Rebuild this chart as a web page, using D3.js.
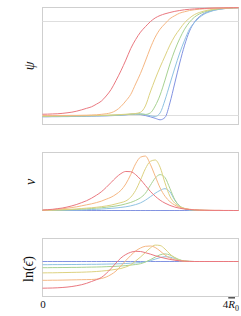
<!DOCTYPE html>
<html>
<head>
<meta charset="utf-8">
<script src="https://cdn.jsdelivr.net/npm/d3@7"></script>
<style>
body { margin: 0; background: #fff; }
</style>
</head>
<body>
<svg id="chart"></svg>
<script>
// radius grid, in units of R0
const xs = [0,0.1,0.2,0.3,0.4,0.5,0.6,0.7,0.8,0.9,1,1.1,1.2,1.3,1.4,1.5,1.6,1.7,1.8,1.9,2,
            2.1,2.2,2.3,2.4,2.5,2.6,2.7,2.8,2.9,3,3.1,3.2,3.3,3.4,3.5,3.6,3.7,3.8,3.9,4]

// psi
const psi_red    = [0.013,0.014,0.016,0.018,0.022,0.028,0.035,0.046,0.060,0.076,0.092,0.120,0.152,0.207,0.276,0.371,0.474,0.588,0.710,0.806,0.885,0.943,0.996,1.036,1.062,1.080,1.094,1.106,1.115,1.123,1.128,1.132,1.135,1.137,1.140,1.141,1.142,1.143,1.144,1.145,1.145]
const psi_orange = [-0.001,-0.001,-0.001,0,0,0,0.001,0.001,0.002,0.003,0.005,0.007,0.012,0.018,0.029,0.053,0.095,0.154,0.223,0.334,0.447,0.578,0.715,0.832,0.917,0.975,1.028,1.060,1.087,1.102,1.115,1.123,1.129,1.133,1.136,1.140,1.141,1.142,1.143,1.144,1.145]
const psi_yellow = [-0.005,-0.005,-0.005,-0.004,-0.004,-0.003,-0.003,-0.002,-0.002,-0.001,0,0.001,0.002,0.003,0.005,0.007,0.010,0.013,0.017,0.021,0.034,0.101,0.249,0.387,0.514,0.631,0.747,0.843,0.917,0.986,1.034,1.071,1.094,1.110,1.121,1.129,1.134,1.138,1.142,1.144,1.145]
const psi_green  = [-0.010,-0.010,-0.008,-0.008,-0.007,-0.007,-0.006,-0.005,-0.005,-0.004,-0.003,-0.002,-0.001,0,0.002,0.004,0.006,0.010,0.013,0.016,0.016,0.011,0.027,0.101,0.217,0.376,0.546,0.694,0.816,0.917,0.991,1.044,1.078,1.099,1.114,1.125,1.132,1.137,1.141,1.144,1.145]
const psi_cyan   = [-0.012,-0.012,-0.011,-0.011,-0.010,-0.010,-0.008,-0.007,-0.007,-0.006,-0.005,-0.004,-0.003,-0.002,0,0.002,0.005,0.008,0.013,0.016,0.016,0.010,-0.003,-0.011,0.027,0.164,0.334,0.504,0.663,0.800,0.917,0.986,1.039,1.076,1.099,1.116,1.127,1.134,1.140,1.143,1.145]
const psi_blue   = [-0.014,-0.014,-0.013,-0.013,-0.012,-0.012,-0.011,-0.010,-0.010,-0.008,-0.007,-0.006,-0.005,-0.004,-0.002,0,0.003,0.007,0.012,0.014,0.010,-0.001,-0.014,-0.030,-0.046,-0.021,0.133,0.345,0.557,0.747,0.896,0.991,1.049,1.084,1.105,1.119,1.129,1.135,1.140,1.143,1.145]

// v
const v_red    = [0.008,0.014,0.020,0.031,0.042,0.059,0.080,0.105,0.136,0.169,0.212,0.263,0.322,0.398,0.483,0.568,0.636,0.673,0.669,0.619,0.534,0.432,0.331,0.246,0.178,0.127,0.088,0.059,0.039,0.025,0.017,0.010,0.007,0.005,0.003,0.002,0.002,0.001,0.001,0,0]
const v_orange = [0.005,0.008,0.014,0.020,0.029,0.039,0.051,0.064,0.081,0.098,0.115,0.136,0.161,0.195,0.229,0.280,0.347,0.458,0.619,0.805,0.919,0.939,0.797,0.593,0.390,0.246,0.153,0.093,0.056,0.034,0.020,0.014,0.008,0.005,0.003,0.002,0.002,0,0,0,0]
const v_yellow = [0.003,0.005,0.007,0.010,0.014,0.017,0.022,0.027,0.034,0.041,0.047,0.056,0.066,0.078,0.093,0.114,0.136,0.164,0.229,0.347,0.525,0.720,0.847,0.871,0.746,0.475,0.246,0.127,0.068,0.037,0.020,0.012,0.007,0.003,0.002,0,0,0,0,0,0]
const v_green  = [0.002,0.003,0.005,0.007,0.008,0.012,0.015,0.019,0.024,0.029,0.034,0.041,0.047,0.056,0.066,0.078,0.093,0.114,0.139,0.173,0.220,0.297,0.432,0.559,0.619,0.568,0.381,0.186,0.076,0.034,0.014,0.007,0.003,0.002,0,0,0,0,0,0,0]
const v_cyan   = [0,0.002,0.002,0.003,0.003,0.005,0.007,0.008,0.010,0.014,0.017,0.020,0.025,0.031,0.037,0.044,0.053,0.064,0.080,0.102,0.132,0.178,0.237,0.297,0.347,0.376,0.322,0.178,0.076,0.025,0.008,0.003,0.002,0,0,0,0,0,0,0,0]
const v_blue   = [0,0,0,0,0,0,0,0,0,0,0,0,0,0,0,0,0,0,0,0,0,0,0,0,0,0,0,0,0,0,0,0,0,0,0,0,0,0,0,0,0]

// ln(eps)
const ln_red    = [-2.67,-2.66,-2.65,-2.63,-2.60,-2.56,-2.50,-2.42,-2.32,-2.18,-2.00,-1.82,-1.60,-1.20,-0.70,-0.15,0.35,0.70,0.92,1.02,1.00,0.88,0.74,0.58,0.44,0.32,0.21,0.13,0.07,0.03,0.01,0,0,0,0,0,0,0,0,0,0]
const ln_orange = [-1.88,-1.88,-1.87,-1.87,-1.86,-1.85,-1.84,-1.83,-1.82,-1.81,-1.80,-1.77,-1.70,-1.55,-1.30,-0.95,-0.45,0.10,0.60,1.05,1.35,1.52,1.55,1.40,1.05,0.65,0.35,0.17,0.07,0.02,0,0,0,0,0,0,0,0,0,0,0]
const ln_yellow = [-1.14,-1.13,-1.13,-1.12,-1.11,-1.10,-1.09,-1.08,-1.07,-1.05,-1.03,-1.00,-0.96,-0.91,-0.85,-0.78,-0.70,-0.55,-0.33,0.05,0.45,0.90,1.35,1.64,1.60,1.25,0.75,0.35,0.14,0.05,0.01,0,0,0,0,0,0,0,0,0,0]
const ln_green  = [-0.62,-0.62,-0.61,-0.61,-0.60,-0.60,-0.59,-0.59,-0.58,-0.57,-0.56,-0.55,-0.54,-0.52,-0.50,-0.48,-0.45,-0.41,-0.36,-0.30,-0.22,-0.05,0.18,0.44,0.67,0.76,0.65,0.40,0.17,0.05,0.01,0,0,0,0,0,0,0,0,0,0]
const ln_cyan   = [-0.32,-0.32,-0.31,-0.31,-0.31,-0.30,-0.30,-0.30,-0.29,-0.29,-0.28,-0.28,-0.27,-0.26,-0.25,-0.24,-0.22,-0.20,-0.17,-0.14,-0.10,-0.03,0.08,0.24,0.39,0.48,0.44,0.30,0.14,0.04,0.01,0,0,0,0,0,0,0,0,0,0]
const ln_blue   = [0,0,0,0,0,0,0,0,0,0,0,0,0,0,0,0,0,0,0,0,0,0,0,0,0,0,0,0,0,0,0,0,0,0,0,0,0,0,0,0,0]

const x_ticks = [0, 4]
const colors = ["#ea7880", "#f6b783", "#ddd281", "#a8d292", "#90c3e2", "#8293e2"]

const width = 241
const height = 316
const x_left = 42.5
const x_right = 238.5
const serif = "'Liberation Serif', 'DejaVu Serif', serif"

const svg = d3.select("#chart")
    .attr("width", width)
    .attr("height", height)

const x = d3.scaleLinear().domain([0, 4]).range([x_left, x_right])

function drawPanel(top, bottom, domain, series, guides){
    const y = d3.scaleLinear().domain(domain).range([bottom, top])
    const g = svg.append("g")

    g.append("rect")
        .attr("x", x_left)
        .attr("y", top)
        .attr("width", x_right - x_left)
        .attr("height", bottom - top)
        .attr("fill", "none")
        .attr("stroke", "#cfcfcf")

    for (const v of guides){
        g.append("line")
            .attr("x1", x_left)
            .attr("x2", x_right)
            .attr("y1", Math.round(y(v)) + 0.5)
            .attr("y2", Math.round(y(v)) + 0.5)
            .attr("stroke", "#dedede")
    }

    const line = d3.line()
        .x((d, i) => x(xs[i]))
        .y(d => y(d))
        .curve(d3.curveMonotoneX)

    // blue first so red ends up on top
    for (let i = series.length - 1; i >= 0; i--){
        g.append("path")
            .attr("d", line(series[i]))
            .attr("fill", "none")
            .attr("stroke", colors[i])
            .attr("stroke-width", 1)
    }
    return g
}

function yLabel(bx, cy){
    return svg.append("text")
        .attr("transform", `translate(${bx},${cy}) rotate(-90)`)
        .attr("text-anchor", "middle")
        .attr("font-family", serif)
        .attr("font-size", 14)
        .attr("fill", "#111")
}

drawPanel(7.5, 124.5, [-0.096, 1.147],
    [psi_red, psi_orange, psi_yellow, psi_green, psi_cyan, psi_blue], [0, 1])
drawPanel(152.5, 210.5, [0, 1],
    [v_red, v_orange, v_yellow, v_green, v_cyan, v_blue], [])
drawPanel(238.5, 296.5, [-3.5, 2.3],
    [ln_red, ln_orange, ln_yellow, ln_green, ln_cyan, ln_blue], [])

yLabel(34, 66).attr("font-style", "italic").text("ψ")
yLabel(35, 182).attr("font-style", "italic").text("ν")
yLabel(33, 269).text("ln(ϵ\u0304)")

const xAxis = d3.axisBottom(x)
    .tickValues(x_ticks)
    .tickSize(0)
    .tickPadding(4)
    .tickFormat(d => d === 0 ? "0" : "")

const axis_g = svg.append("g")
    .attr("transform", "translate(0,296.5)")
    .call(xAxis)
axis_g.select(".domain").remove()
axis_g.selectAll("text")
    .attr("font-family", serif)
    .attr("font-size", 11)
    .attr("fill", "#111")

// last tick: 4 R0-bar, right-aligned to the frame
const last = axis_g.selectAll(".tick").filter(d => d === 4).select("text")
    .attr("text-anchor", "end")
last.append("tspan").text("4")
last.append("tspan")
    .attr("font-style", "italic")
    .style("text-decoration", "overline")
    .text("R")
last.append("tspan").attr("font-size", 8).attr("dy", 2.5).text("0")
</script>
</body>
</html>
